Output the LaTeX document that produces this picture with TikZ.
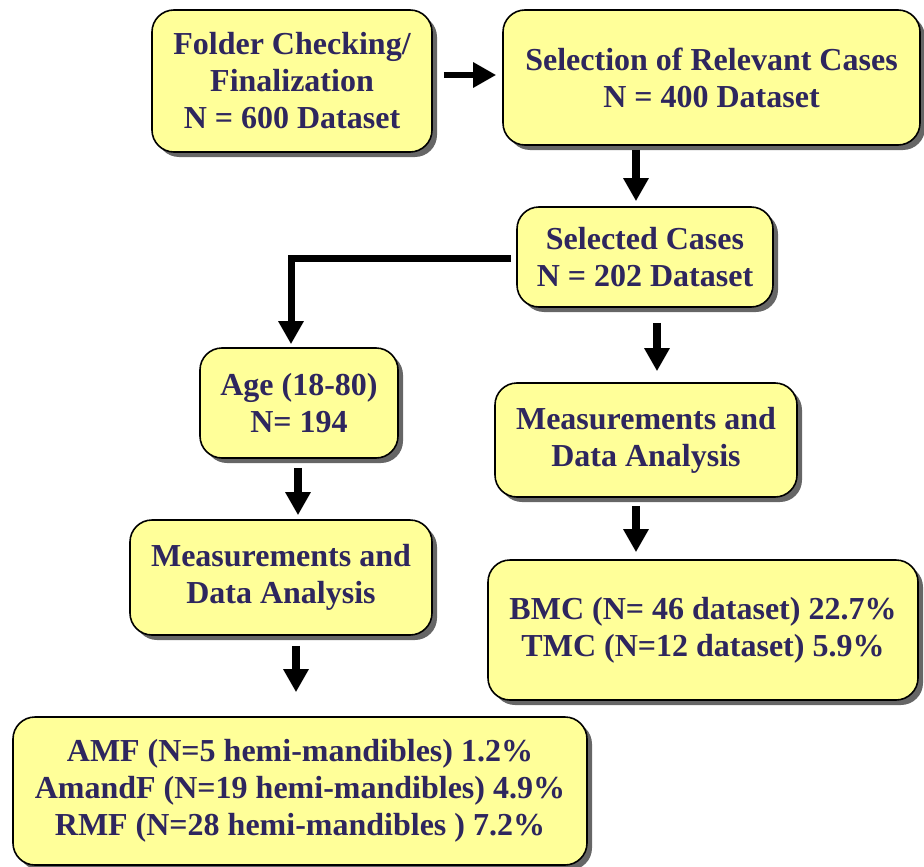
\documentclass[tikz,border=0pt]{standalone}
\usepackage{fontspec}
\setmainfont{Liberation Serif}
\usetikzlibrary{arrows.meta,shadows}
\definecolor{boxfill}{RGB}{255,255,153}
\definecolor{txtcol}{RGB}{46,38,94}
\begin{document}
\begin{tikzpicture}[x=1pt,y=-1pt,
  box/.style={draw=black, line width=1.6pt, fill=boxfill, rounded corners=22pt,
    align=center, font=\fontsize{32}{37}\selectfont\bfseries, text=txtcol,
    drop shadow={shadow xshift=5pt, shadow yshift=-5pt, fill=black!60, opacity=1},
    inner sep=0pt},
  arr/.style={draw=black, line width=8pt, line join=miter, -{Triangle[width=24pt,length=23pt]}}]
\useasboundingbox (0,0) rectangle (924,867);

\node[box, minimum width=280pt, minimum height=142pt] (fold) at (292,81)
  {Folder Checking/\\Finalization\\N = 600 Dataset};
\node[box, minimum width=417pt, minimum height=135pt] (sel) at (711.5,77.5)
  {Selection of Relevant Cases\\N = 400 Dataset};
\node[box, minimum width=256pt, minimum height=100pt] (selc) at (645,257)
  {Selected Cases\\N = 202 Dataset};
\node[box, minimum width=198pt, minimum height=110pt] (age) at (299,403)
  {Age (18-80)\\N= 194};
\node[box, minimum width=302pt, minimum height=114pt] (measR) at (646,440)
  {Measurements and\\Data Analysis};
\node[box, minimum width=302pt, minimum height=115pt] (measL) at (281,577.5)
  {Measurements and\\Data Analysis};
\node[box, minimum width=430pt, minimum height=140pt] (bmc) at (703,630)
  {BMC (N= 46 dataset) 22.7\%\\ TMC (N=12 dataset) 5.9\%};
\node[box, minimum width=574pt, minimum height=148pt] (amf) at (300,791)
  {AMF (N=5 hemi-mandibles) 1.2\%\\AmandF (N=19 hemi-mandibles) 4.9\%\\RMF (N=28 hemi-mandibles ) 7.2\%};

\draw[arr, line width=6.5pt] ([xshift=11pt,yshift=6pt]fold.east) -- ([xshift=-6pt,yshift=6pt]fold.east -| sel.west);
\draw[arr] ([xshift=-9pt,yshift=-4pt]selc.north |- sel.south) -- ([xshift=-9pt,yshift=5pt]selc.north);
\draw[arr, line width=7pt] ([xshift=-5pt,yshift=-1pt]selc.west) -| ([xshift=-8pt,yshift=3pt]age.north);
\draw[arr] ([xshift=11pt,yshift=-15pt]measR.north |- selc.south) -- ([xshift=11pt,yshift=11pt]measR.north);
\draw[arr] ([xshift=17pt,yshift=-9pt]measL.north |- age.south) -- ([xshift=17pt,yshift=4pt]measL.north);
\draw[arr] ([xshift=-10pt,yshift=-8pt]measR.south) -- ([xshift=-10pt,yshift=7pt]measR.south |- bmc.north);
\draw[arr] ([xshift=15pt,yshift=-10pt]measL.south) -- ([xshift=15pt,yshift=24pt]measL.south |- amf.north);
\end{tikzpicture}
\end{document}
